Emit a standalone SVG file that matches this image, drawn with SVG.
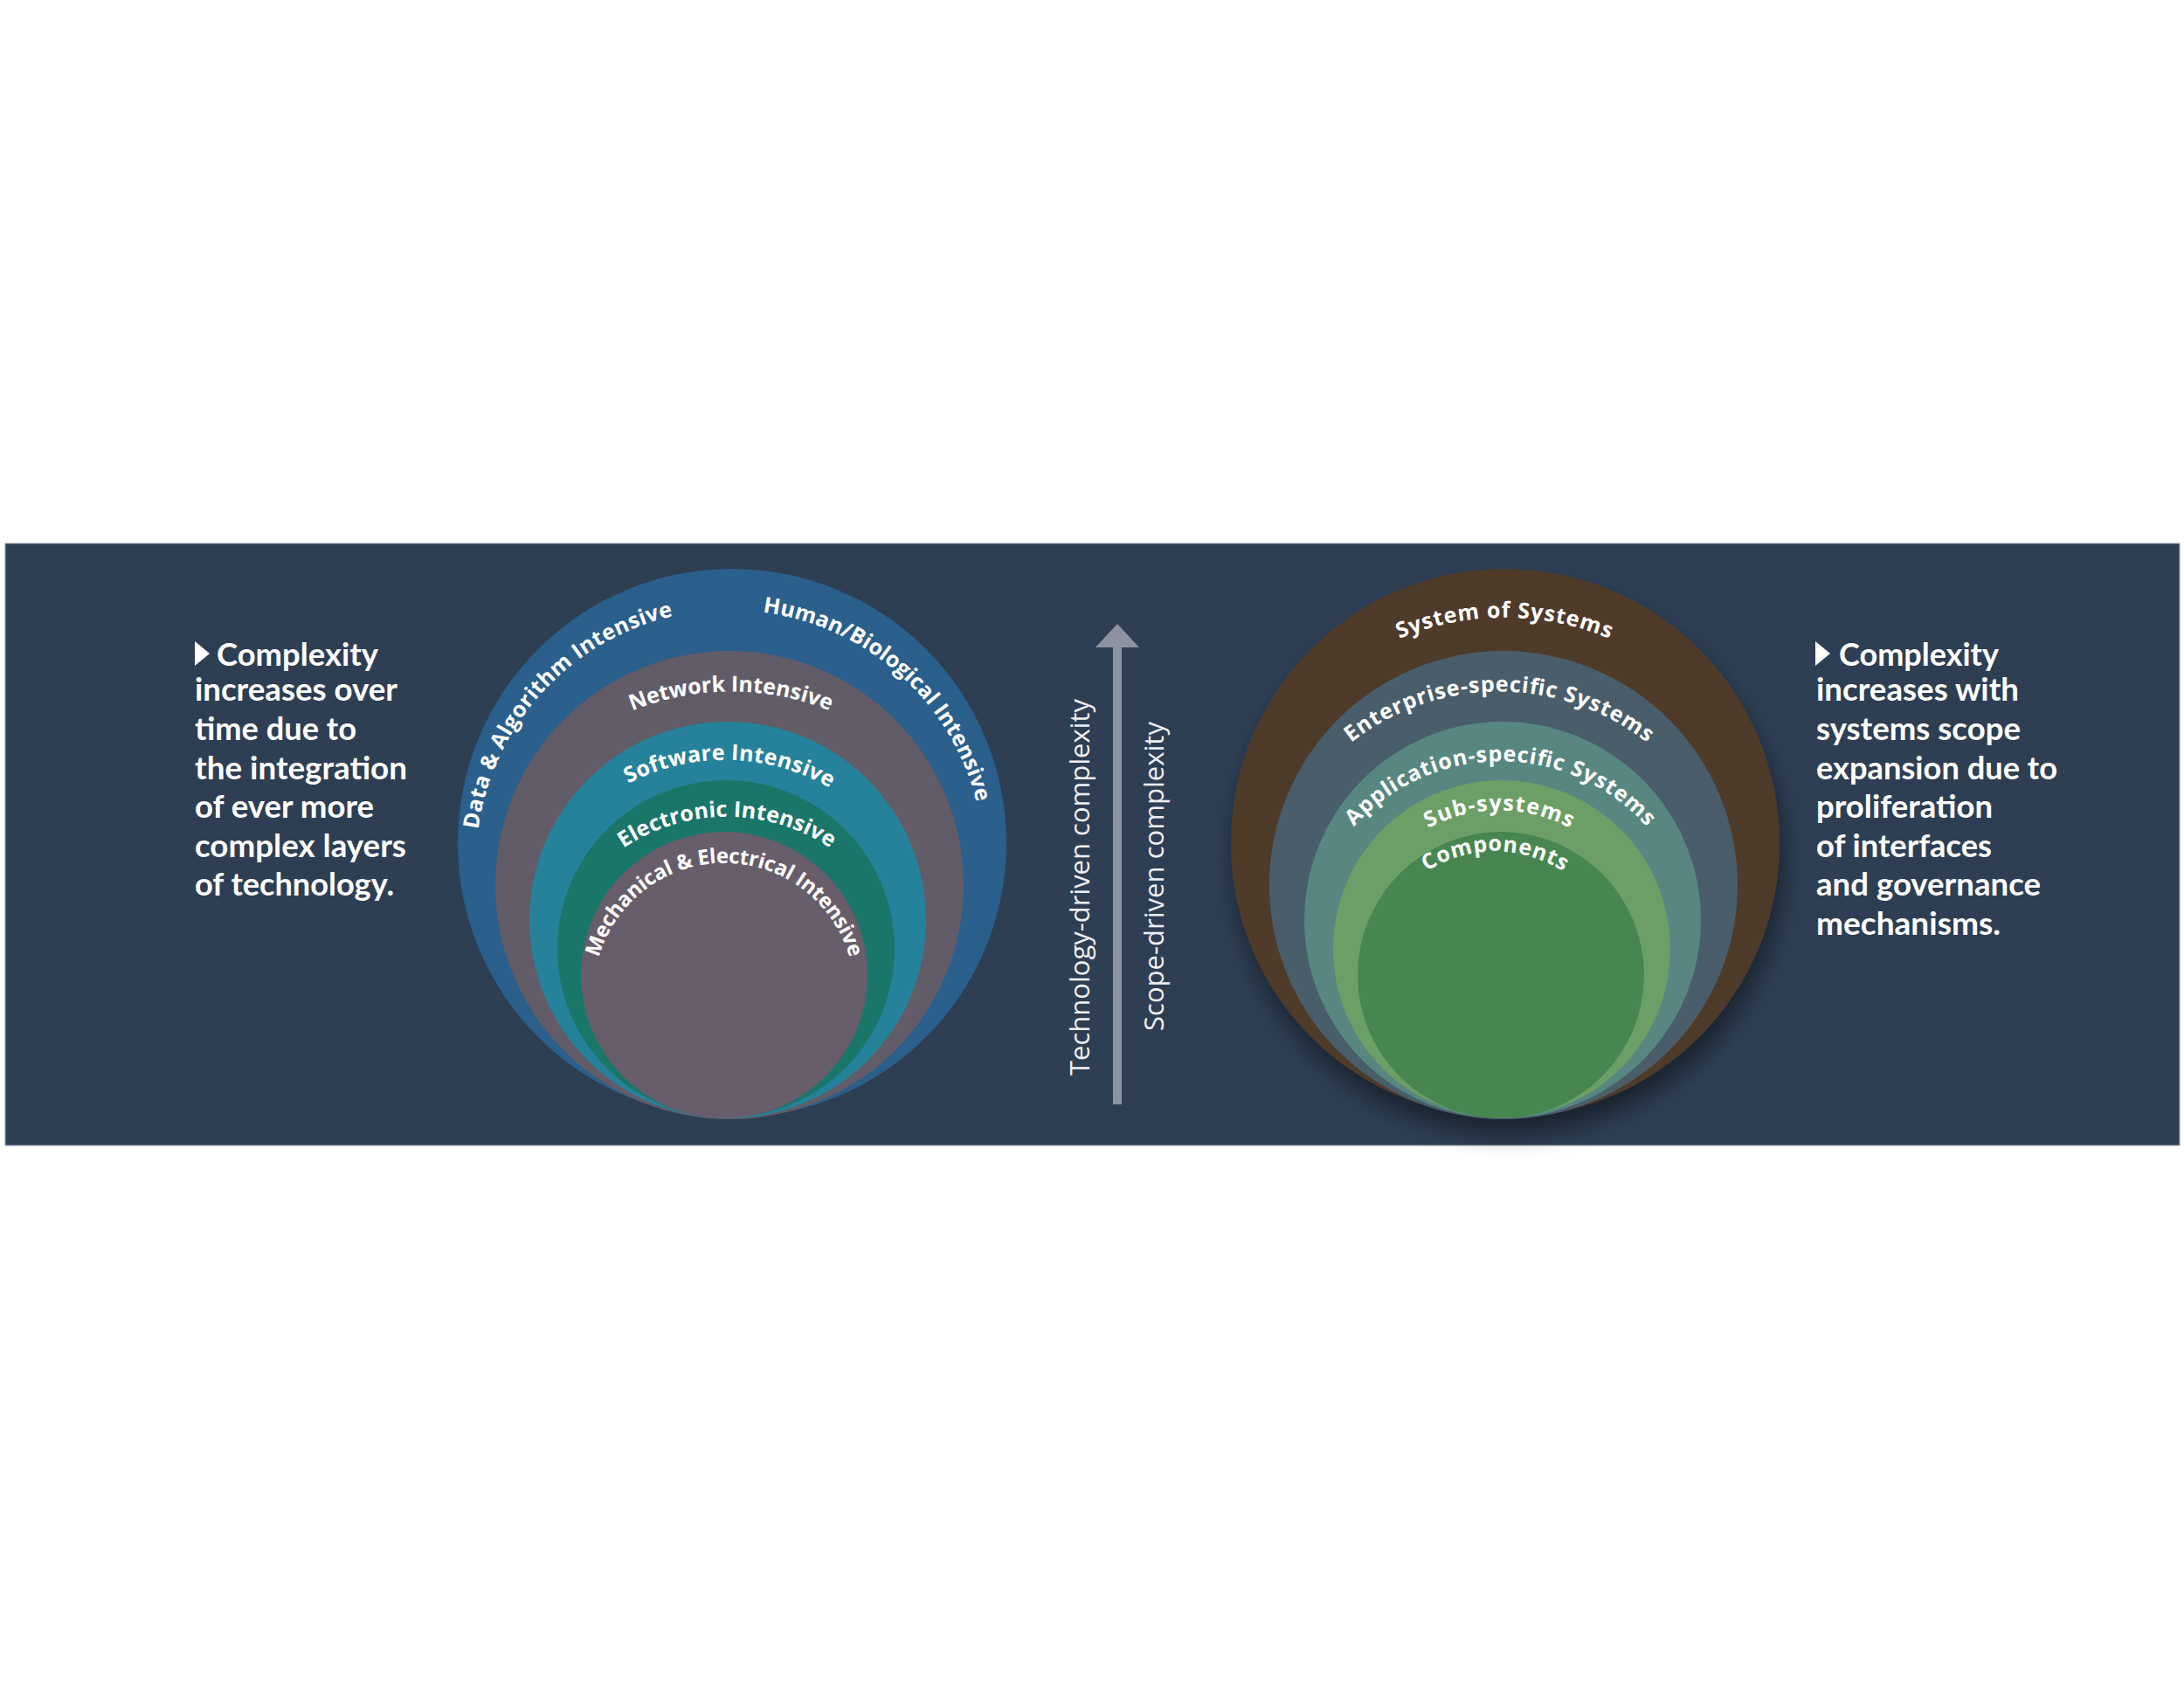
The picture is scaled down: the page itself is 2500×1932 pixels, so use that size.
<svg xmlns="http://www.w3.org/2000/svg" width="2500" height="1932" viewBox="0 0 2500 1932">
<defs>
<style>
.lbl{font-family:"Open Sans","Liberation Sans",sans-serif;font-weight:700;font-size:25px;fill:#ffffff;}
.para{font-family:Lato,"Liberation Sans",sans-serif;font-weight:700;font-size:37px;fill:#ffffff;}
.vert{font-family:"Open Sans","Liberation Sans",sans-serif;font-weight:400;font-size:31px;fill:#eef0f3;}
</style>
<filter id="shadow" x="-20%" y="-20%" width="140%" height="150%">
<feDropShadow dx="4" dy="18" stdDeviation="14" flood-color="#000000" flood-opacity="0.45"/>
</filter>
<path id="pData" d="M 621.8 1186 A 291 291 0 0 1 1012.8 757.8"/>
<path id="pHuman" d="M 636.1 777.6 A 291 291 0 0 1 1069.6 1162.5"/>
<path id="pNet" d="M 536.8 1066.8 A 301 301 0 0 1 1136.6 1066.8"/>
<path id="pSoft" d="M 591.4 1083.9 A 240 240 0 0 1 1069.5 1094.3"/>
<path id="pElec" d="M 619.4 1129.8 A 213.4 213.4 0 0 1 1044.6 1129.8"/>
<path id="pMech" d="M 682 1163.2 A 149.3 149.3 0 1 1 976 1163.2"/>
<path id="pSoS" d="M 1412.4 990.4 A 310.8 310.8 0 0 1 2031.6 990.4"/>
<path id="pEnt" d="M 1443 1042.1 A 274 274 0 0 1 1989 1042.1"/>
<path id="pApp" d="M 1493.3 1076.4 A 225.1 225.1 0 0 1 1941.7 1076.4"/>
<path id="pSub" d="M 1545 1083.7 A 171.7 171.7 0 0 1 1887 1083.7"/>
<path id="pComp" d="M 1568 1106.3 A 143.8 143.8 0 0 1 1854.6 1106.3"/>
</defs>
<rect x="0" y="0" width="2500" height="1932" fill="#ffffff"/>
<rect id="band" x="6" y="622" width="2489" height="689" fill="#2e3f54" stroke="#8e98a4" stroke-width="1"/>

<g id="left-text">
<polygon points="223,734 223,762 240,748" fill="#ffffff"/>
<text class="para" x="248" y="762" textLength="185" lengthAdjust="spacingAndGlyphs">Complexity</text>
<text class="para" x="223" y="802" textLength="232" lengthAdjust="spacingAndGlyphs">increases over</text>
<text class="para" x="223" y="847" textLength="185" lengthAdjust="spacingAndGlyphs">time due to</text>
<text class="para" x="223" y="891.5" textLength="243" lengthAdjust="spacingAndGlyphs">the integration</text>
<text class="para" x="223" y="936" textLength="205" lengthAdjust="spacingAndGlyphs">of ever more</text>
<text class="para" x="223" y="980.5" textLength="242" lengthAdjust="spacingAndGlyphs">complex layers</text>
<text class="para" x="223" y="1025" textLength="228" lengthAdjust="spacingAndGlyphs">of technology.</text>
</g>

<g id="right-text">
<polygon points="2078,734 2078,762 2095,748" fill="#ffffff"/>
<text class="para" x="2105" y="762" textLength="183" lengthAdjust="spacingAndGlyphs">Complexity</text>
<text class="para" x="2079" y="802" textLength="232" lengthAdjust="spacingAndGlyphs">increases with</text>
<text class="para" x="2079" y="847" textLength="234" lengthAdjust="spacingAndGlyphs">systems scope</text>
<text class="para" x="2079" y="891.5" textLength="276" lengthAdjust="spacingAndGlyphs">expansion due to</text>
<text class="para" x="2079" y="936" textLength="202" lengthAdjust="spacingAndGlyphs">proliferation</text>
<text class="para" x="2079" y="980.5" textLength="201" lengthAdjust="spacingAndGlyphs">of interfaces</text>
<text class="para" x="2079" y="1025" textLength="257" lengthAdjust="spacingAndGlyphs">and governance</text>
<text class="para" x="2079" y="1069.5" textLength="211" lengthAdjust="spacingAndGlyphs">mechanisms.</text>
</g>

<g id="tech-layers">
<g id="outer-tech">
<circle cx="838" cy="965" r="314" fill="#2b5f8c"/>
<text class="lbl"><textPath href="#pData" startOffset="50%" text-anchor="middle" textLength="352" lengthAdjust="spacing">Data &amp; Algorithm Intensive</textPath></text>
<text class="lbl"><textPath href="#pHuman" startOffset="50%" text-anchor="middle" textLength="348" lengthAdjust="spacing">Human/Biological Intensive</textPath></text>
</g>
<g id="network">
<circle cx="835" cy="1013" r="268" fill="#625c68"/>
<text class="lbl"><textPath href="#pNet" startOffset="50%" text-anchor="middle" textLength="232" lengthAdjust="spacing">Network Intensive</textPath></text>
</g>
<g id="software">
<circle cx="833" cy="1053" r="227" fill="#26829a"/>
<text class="lbl"><textPath href="#pSoft" startOffset="50%" text-anchor="middle" textLength="241" lengthAdjust="spacing">Software Intensive</textPath></text>
</g>
<g id="electronic">
<circle cx="831" cy="1086" r="193" fill="#1b766a"/>
<text class="lbl"><textPath href="#pElec" startOffset="50%" text-anchor="middle" textLength="251" lengthAdjust="spacing">Electronic Intensive</textPath></text>
</g>
<g id="mechanical">
<circle cx="829" cy="1116" r="164" fill="#685d6a"/>
<text class="lbl" style="font-size:24px"><textPath href="#pMech" startOffset="50%" text-anchor="middle" textLength="386" lengthAdjust="spacing">Mechanical &amp; Electrical Intensive</textPath></text>
</g>
</g>

<g id="scope-layers">
<g id="system-of-systems">
<circle cx="1723" cy="965" r="314" fill="#503b2c" filter="url(#shadow)"/>
<text class="lbl"><textPath href="#pSoS" startOffset="50%" text-anchor="middle" textLength="247" lengthAdjust="spacing">System of Systems</textPath></text>
</g>
<g id="enterprise">
<circle cx="1721" cy="1013" r="268" fill="#495e6a"/>
<text class="lbl"><textPath href="#pEnt" startOffset="50%" text-anchor="middle" textLength="365" lengthAdjust="spacing">Enterprise-specific Systems</textPath></text>
</g>
<g id="application">
<circle cx="1720" cy="1053" r="227" fill="#578780"/>
<text class="lbl"><textPath href="#pApp" startOffset="50%" text-anchor="middle" textLength="378" lengthAdjust="spacing">Application-specific Systems</textPath></text>
</g>
<g id="sub-systems">
<circle cx="1719" cy="1086" r="193" fill="#6c9f67"/>
<text class="lbl"><textPath href="#pSub" startOffset="50%" text-anchor="middle" textLength="169" lengthAdjust="spacing">Sub-systems</textPath></text>
</g>
<g id="components">
<circle cx="1718" cy="1116" r="164" fill="#478650"/>
<text class="lbl"><textPath href="#pComp" startOffset="50%" text-anchor="middle" textLength="165" lengthAdjust="spacing">Components</textPath></text>
</g>
</g>

<g id="connectors">
<rect x="1274" y="739" width="10" height="525" fill="#8e91a0"/>
<polygon points="1279,714 1304,741 1254,741" fill="#8e91a0"/>
</g>
<g id="axis-labels">
<text class="vert" transform="translate(1247,1015.5) rotate(-90)" text-anchor="middle" textLength="431" lengthAdjust="spacingAndGlyphs">Technology-driven complexity</text>
<text class="vert" transform="translate(1332,1003) rotate(-90)" text-anchor="middle" textLength="354" lengthAdjust="spacingAndGlyphs">Scope-driven complexity</text>
</g>
</svg>
